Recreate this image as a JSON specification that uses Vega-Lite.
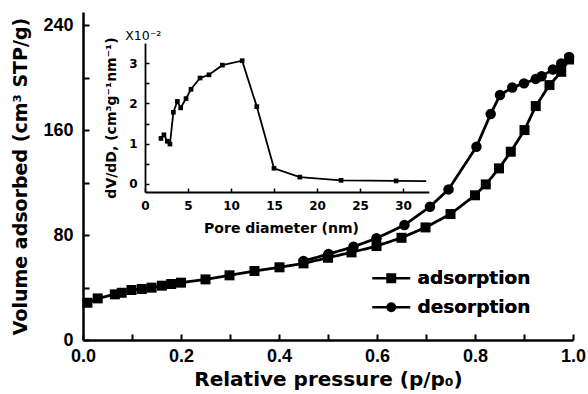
{
  "$schema": "https://vega.github.io/schema/vega-lite/v6.json",
  "width": 490,
  "height": 328,
  "autosize": "none",
  "padding": {"left": 83, "top": 12, "right": 15, "bottom": 54},
  "background": "white",
  "config": {
    "view": {"stroke": null},
    "axis": {"grid": false, "domainColor": "black", "tickColor": "black", "labelColor": "black", "titleColor": "black"}
  },
  "resolve": {"scale": {"x": "independent", "y": "independent"}, "axis": {"x": "independent", "y": "independent"}},
  "layer": [
    {
      "data": {"values": [
        {"p": 0.009, "v": 28.4, "branch": "adsorption"},
        {"p": 0.030, "v": 31.7, "branch": "adsorption"},
        {"p": 0.065, "v": 34.8, "branch": "adsorption"},
        {"p": 0.079, "v": 36.0, "branch": "adsorption"},
        {"p": 0.099, "v": 38.1, "branch": "adsorption"},
        {"p": 0.120, "v": 38.9, "branch": "adsorption"},
        {"p": 0.140, "v": 39.9, "branch": "adsorption"},
        {"p": 0.161, "v": 41.4, "branch": "adsorption"},
        {"p": 0.180, "v": 42.7, "branch": "adsorption"},
        {"p": 0.200, "v": 43.7, "branch": "adsorption"},
        {"p": 0.250, "v": 46.2, "branch": "adsorption"},
        {"p": 0.299, "v": 49.3, "branch": "adsorption"},
        {"p": 0.350, "v": 52.6, "branch": "adsorption"},
        {"p": 0.401, "v": 55.4, "branch": "adsorption"},
        {"p": 0.450, "v": 58.4, "branch": "adsorption"},
        {"p": 0.500, "v": 62.7, "branch": "adsorption"},
        {"p": 0.548, "v": 66.8, "branch": "adsorption"},
        {"p": 0.599, "v": 71.6, "branch": "adsorption"},
        {"p": 0.650, "v": 77.9, "branch": "adsorption"},
        {"p": 0.699, "v": 85.8, "branch": "adsorption"},
        {"p": 0.750, "v": 96.0, "branch": "adsorption"},
        {"p": 0.800, "v": 110.3, "branch": "adsorption"},
        {"p": 0.822, "v": 118.6, "branch": "adsorption"},
        {"p": 0.849, "v": 130.8, "branch": "adsorption"},
        {"p": 0.873, "v": 143.5, "branch": "adsorption"},
        {"p": 0.901, "v": 160.0, "branch": "adsorption"},
        {"p": 0.924, "v": 178.3, "branch": "adsorption"},
        {"p": 0.952, "v": 194.3, "branch": "adsorption"},
        {"p": 0.976, "v": 204.4, "branch": "adsorption"},
        {"p": 0.992, "v": 213.8, "branch": "adsorption"},
        {"p": 0.450, "v": 60.2, "branch": "desorption"},
        {"p": 0.501, "v": 65.5, "branch": "desorption"},
        {"p": 0.552, "v": 71.1, "branch": "desorption"},
        {"p": 0.599, "v": 77.5, "branch": "desorption"},
        {"p": 0.656, "v": 87.6, "branch": "desorption"},
        {"p": 0.708, "v": 101.6, "branch": "desorption"},
        {"p": 0.746, "v": 114.8, "branch": "desorption"},
        {"p": 0.803, "v": 147.3, "branch": "desorption"},
        {"p": 0.832, "v": 172.2, "branch": "desorption"},
        {"p": 0.851, "v": 186.7, "branch": "desorption"},
        {"p": 0.876, "v": 192.4, "branch": "desorption"},
        {"p": 0.900, "v": 195.6, "branch": "desorption"},
        {"p": 0.924, "v": 199.0, "branch": "desorption"},
        {"p": 0.936, "v": 201.0, "branch": "desorption"},
        {"p": 0.959, "v": 206.2, "branch": "desorption"},
        {"p": 0.976, "v": 210.8, "branch": "desorption"},
        {"p": 0.992, "v": 215.8, "branch": "desorption"}
      ]},
      "layer": [
        {
          "mark": {"type": "line", "color": "black", "strokeWidth": 2.8},
          "encoding": {
            "x": {"field": "p", "type": "quantitative",
              "scale": {"domain": [0, 1], "nice": false, "zero": false},
              "axis": {"orient": "bottom", "title": "Relative pressure (p/p₀)",
                "values": [0, 0.1, 0.2, 0.3, 0.4, 0.5, 0.6, 0.7, 0.8, 0.9, 1.0],
                "format": ".1f",
                "labelExpr": "round(datum.value*10) % 2 == 1 ? '' : datum.label",
                "tickSize": -6, "tickWidth": 2, "domainWidth": 2.5,
                "labelFont": "Liberation Sans", "labelFontWeight": "bold", "labelFontSize": 18, "labelPadding": 13,
                "labelFlush": false,
                "titleFont": "DejaVu Sans", "titleFontWeight": "bold", "titleFontSize": 20, "titlePadding": 4}},
            "y": {"field": "v", "type": "quantitative",
              "scale": {"domain": [0, 250], "nice": false},
              "axis": {"orient": "left", "title": "Volume adsorbed (cm³ STP/g)",
                "values": [0, 40, 80, 120, 160, 200, 240],
                "labelExpr": "datum.value % 80 != 0 ? '' : datum.label",
                "tickSize": -6, "tickWidth": 2, "domainWidth": 2.5,
                "labelFont": "Liberation Sans", "labelFontWeight": "bold", "labelFontSize": 18, "labelPadding": 16,
                "labelFlush": false,
                "titleFont": "DejaVu Sans", "titleFontWeight": "bold", "titleFontSize": 19, "titlePadding": 12}},
            "detail": {"field": "branch"},
            "strokeDash": {"field": "branch", "type": "nominal",
              "scale": {"range": [[1, 0], [1, 0]]},
              "legend": {"title": null, "orient": "none", "legendX": 299, "legendY": 257,
                "padding": 0, "symbolSize": 100, "symbolType": "M-3.8,0H3.8",
                "symbolStrokeColor": "black", "symbolStrokeWidth": 2.5, "symbolOpacity": 1,
                "labelOffset": 17, "rowPadding": 10,
                "labelFont": "DejaVu Sans", "labelFontWeight": "bold", "labelFontSize": 18.5, "labelColor": "black"}}
          }
        },
        {
          "transform": [{"filter": "datum.branch === 'adsorption'"}],
          "mark": {"type": "point", "shape": "square", "filled": true, "color": "black", "opacity": 1, "size": 100},
          "encoding": {
            "x": {"field": "p", "type": "quantitative"},
            "y": {"field": "v", "type": "quantitative"}
          }
        },
        {
          "transform": [{"filter": "datum.branch === 'desorption'"}],
          "mark": {"type": "point", "shape": "circle", "filled": true, "color": "black", "opacity": 1, "size": 110},
          "encoding": {
            "x": {"field": "p", "type": "quantitative"},
            "y": {"field": "v", "type": "quantitative"}
          }
        },
        {
          "mark": {"type": "point", "filled": true, "color": "black", "opacity": 1, "size": 0},
          "encoding": {
            "x": {"field": "p", "type": "quantitative"},
            "y": {"field": "v", "type": "quantitative"},
            "shape": {"field": "branch", "type": "nominal",
              "scale": {"domain": ["adsorption", "desorption"], "range": ["square", "circle"]},
              "legend": {"title": null, "orient": "none", "legendX": 299, "legendY": 257,
                "padding": 0, "symbolSize": 100, "symbolFillColor": "black", "symbolOpacity": 1,
                "labelOffset": 17, "rowPadding": 10,
                "labelFont": "DejaVu Sans", "labelFontWeight": "bold", "labelFontSize": 18.5, "labelColor": "black"}}
          }
        }
      ]
    },
    {
      "data": {"values": [
        {"d": 1.86, "dvdd": 1.13},
        {"d": 2.2, "dvdd": 1.22},
        {"d": 2.6, "dvdd": 1.06},
        {"d": 2.9, "dvdd": 0.99},
        {"d": 3.3, "dvdd": 1.78},
        {"d": 3.76, "dvdd": 2.05},
        {"d": 4.15, "dvdd": 1.89},
        {"d": 4.77, "dvdd": 2.12},
        {"d": 5.35, "dvdd": 2.35},
        {"d": 6.4, "dvdd": 2.63},
        {"d": 7.44, "dvdd": 2.71},
        {"d": 9.0, "dvdd": 2.95},
        {"d": 11.3, "dvdd": 3.06},
        {"d": 13.0, "dvdd": 1.92},
        {"d": 15.0, "dvdd": 0.39},
        {"d": 18.0, "dvdd": 0.17},
        {"d": 22.8, "dvdd": 0.09},
        {"d": 29.2, "dvdd": 0.075},
        {"d": 32.7, "dvdd": 0.07}
      ]},
      "layer": [
        {
          "mark": {"type": "line", "color": "black", "strokeWidth": 1.8},
          "encoding": {
            "x": {"field": "d", "type": "quantitative",
              "scale": {"domain": [0, 33], "nice": false, "zero": false, "range": [62, 345.8]},
              "axis": {"orient": "bottom", "offset": -148, "title": "Pore diameter (nm)", "titleX": 198,
                "values": [0, 2.5, 5, 7.5, 10, 12.5, 15, 17.5, 20, 22.5, 25, 27.5, 30, 32.5],
                "format": ".0f",
                "labelExpr": "datum.value % 5 != 0 ? '' : datum.label",
                "tickSize": -4, "tickWidth": 1.5, "domainWidth": 1.8,
                "labelFont": "DejaVu Sans", "labelFontWeight": "bold", "labelFontSize": 12, "labelPadding": 12,
                "labelFlush": false,
                "titleFont": "DejaVu Sans", "titleFontWeight": "bold", "titleFontSize": 14, "titlePadding": 10}},
            "y": {"field": "dvdd", "type": "quantitative",
              "scale": {"domain": [-0.2, 3.5], "nice": false, "zero": false, "range": [180, 31]},
              "axis": {"orient": "left", "offset": -62, "title": "dV/dD, (cm³g⁻¹nm⁻¹)",
                "values": [0, 0.5, 1, 1.5, 2, 2.5, 3],
                "format": ".0f",
                "labelExpr": "datum.value % 1 != 0 ? '' : datum.label",
                "tickSize": -4, "tickWidth": 1.5, "domainWidth": 1.8,
                "labelFont": "DejaVu Sans", "labelFontWeight": "bold", "labelFontSize": 12, "labelPadding": 12,
                "labelFlush": false,
                "titleFont": "DejaVu Sans", "titleFontWeight": "bold", "titleFontSize": 14, "titlePadding": 10}}
          }
        },
        {
          "transform": [{"filter": "datum.d < 32"}],
          "mark": {"type": "point", "shape": "square", "filled": true, "color": "black", "opacity": 1, "size": 22},
          "encoding": {
            "x": {"field": "d", "type": "quantitative"},
            "y": {"field": "dvdd", "type": "quantitative"}
          }
        },
        {
          "data": {"values": [{"d": -0.2, "dvdd": 3.68, "note": "X10⁻²"}]},
          "mark": {"type": "text", "font": "DejaVu Sans", "fontSize": 12.5, "color": "black", "align": "center", "baseline": "middle"},
          "encoding": {
            "x": {"field": "d", "type": "quantitative"},
            "y": {"field": "dvdd", "type": "quantitative"},
            "text": {"field": "note"}
          }
        }
      ]
    }
  ]
}
